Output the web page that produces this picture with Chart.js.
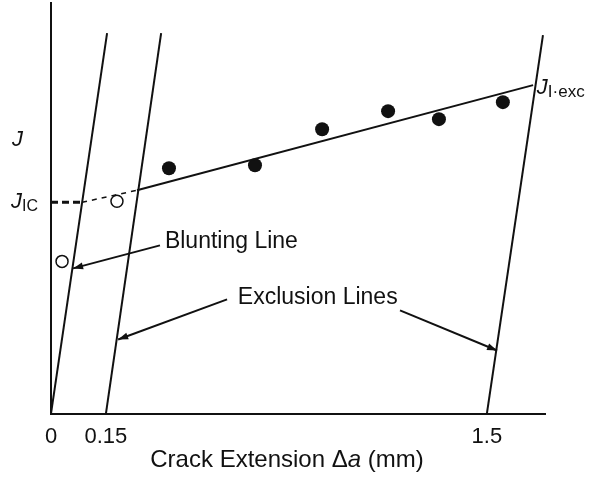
<!DOCTYPE html>
<html>
<head>
<meta charset="utf-8">
<script src="https://cdn.jsdelivr.net/npm/chart.js@4.4.1/dist/chart.umd.min.js"></script>
<style>
  html, body { margin: 0; padding: 0; background: #fff; }
  #wrap { width: 591px; height: 477px; }
</style>
</head>
<body>
<div id="wrap"><canvas id="jr"></canvas></div>
<script>
// schematic J-R curve, x in plot units (tick labels are the real mm values)
const xTickValues = [0, 0.189, 1.5];
const xTickLabels = ['0', '0.15', '1.5'];
const jLevel = 27.3;   // where the "J" axis label sits
const jIC = 21.1;

// measured points
const filledX = [0.406, 0.702, 0.933, 1.160, 1.335, 1.555];
const filledY = [24.5, 24.8, 28.4, 30.2, 29.4, 31.1];
const openX = [0.038, 0.227];
const openY = [15.2, 21.2];

// construction lines
const bluntingLine = [[0, 0], [0.193, 38]];
const exclusionLine1 = [[0.189, 0], [0.379, 38]];
const exclusionLine2 = [[1.5, 0], [1.693, 37.8]];
const regressionLine = [[0.296, 22.3], [1.659, 32.8]];
const regressionExt = [[0.107, jIC], [0.296, 22.3]];
const jicLine = [[0, jIC], [0.107, jIC]];

// label arrows (tail -> head)
const arrowBlunting = [[0.375, 16.8], [0.076, 14.5]];
const arrowExcl1 = [[0.606, 11.4], [0.231, 7.4]];
const arrowExcl2 = [[1.201, 10.3], [1.535, 6.3]];

const toPts = arr => arr.map(p => ({ x: p[0], y: p[1] }));
const ink = '#111';
const FONT = '"Liberation Sans", Arial, sans-serif';

function lineSet(arr, extra) {
  return Object.assign({
    type: 'line',
    data: toPts(arr),
    borderColor: ink,
    borderWidth: 2,
    pointRadius: 0,
    fill: false,
    tension: 0
  }, extra || {});
}

const arrows = [arrowBlunting, arrowExcl1, arrowExcl2];

const labelPlugin = {
  id: 'labels',
  afterDatasetsDraw(chart) {
    const ctx = chart.ctx;
    const xs = chart.scales.x, ys = chart.scales.y;
    const px = v => xs.getPixelForValue(v);
    const py = v => ys.getPixelForValue(v);
    ctx.save();
    ctx.fillStyle = ink;

    // arrow heads
    arrows.forEach(a => {
      const x0 = px(a[0][0]), y0 = py(a[0][1]);
      const x1 = px(a[1][0]), y1 = py(a[1][1]);
      const ang = Math.atan2(y1 - y0, x1 - x0);
      const len = 10, half = 3.5;
      ctx.beginPath();
      ctx.moveTo(x1, y1);
      ctx.lineTo(x1 - len * Math.cos(ang) + half * Math.sin(ang), y1 - len * Math.sin(ang) - half * Math.cos(ang));
      ctx.lineTo(x1 - len * Math.cos(ang) - half * Math.sin(ang), y1 - len * Math.sin(ang) + half * Math.cos(ang));
      ctx.closePath();
      ctx.fill();
    });

    ctx.textBaseline = 'middle';
    ctx.textAlign = 'left';
    const reg = '23px ' + FONT;
    ctx.font = reg;
    ctx.fillText('Blunting Line', px(0.392), py(17.2));
    ctx.fillText('Exclusion Lines', px(0.643), py(11.6));

    // J on the axis
    const it = 'italic 22px ' + FONT;
    const sub = '16px ' + FONT;
    ctx.font = it;
    ctx.fillText('J', chart.chartArea.left - 39, py(jLevel));

    // J_IC
    let x = chart.chartArea.left - 40;
    ctx.font = it;
    ctx.fillText('J', x, py(jIC));
    x += ctx.measureText('J').width;
    ctx.font = sub;
    ctx.fillText('IC', x, py(jIC) + 4);

    // J_I-exc
    x = px(1.672);
    ctx.font = it;
    ctx.fillText('J', x, py(32.5));
    x += ctx.measureText('J').width;
    ctx.font = '17px ' + FONT;
    ctx.fillText('I\u00b7exc', x, py(32.5) + 4);

    // x axis title with italic a
    const ty = 460;
    const parts = [['Crack Extension \u0394', '24px ' + FONT], ['a', 'italic 24px ' + FONT], [' (mm)', '24px ' + FONT]];
    let w = 0;
    parts.forEach(p => { ctx.font = p[1]; w += ctx.measureText(p[0]).width; });
    x = 287 - w / 2;
    parts.forEach(p => { ctx.font = p[1]; ctx.fillText(p[0], x, ty); x += ctx.measureText(p[0]).width; });
    ctx.restore();
  }
};

new Chart(document.getElementById('jr'), {
  type: 'scatter',
  data: {
    datasets: [
      lineSet(bluntingLine),
      lineSet(exclusionLine1),
      lineSet(exclusionLine2),
      lineSet(regressionLine),
      lineSet(regressionExt, { borderDash: [5, 5], borderWidth: 1.5 }),
      lineSet(jicLine, { borderDash: [7, 4], borderWidth: 3 }),
      lineSet(arrowBlunting),
      lineSet(arrowExcl1),
      lineSet(arrowExcl2),
      {
        type: 'scatter',
        data: filledX.map((v, i) => ({ x: v, y: filledY[i] })),
        pointRadius: 7,
        pointBackgroundColor: ink,
        pointBorderColor: ink,
        pointBorderWidth: 0
      },
      {
        type: 'scatter',
        data: openX.map((v, i) => ({ x: v, y: openY[i] })),
        pointRadius: 6,
        pointBackgroundColor: '#fff',
        pointBorderColor: ink,
        pointBorderWidth: 1.5
      }
    ]
  },
  options: {
    responsive: true,
    maintainAspectRatio: false,
    animation: false,
    layout: { autoPadding: false, padding: { left: 51, top: 3, right: 46, bottom: 17 } },
    plugins: { legend: { display: false }, tooltip: { enabled: false } },
    scales: {
      x: {
        type: 'linear',
        min: 0,
        max: 1.7,
        grid: { display: false, drawTicks: false },
        border: { display: true, color: ink, width: 2 },
        afterBuildTicks: s => { s.ticks = xTickValues.map(v => ({ value: v })); },
        ticks: {
          color: ink,
          padding: 10,
          font: { family: FONT, size: 22 },
          maxRotation: 0,
          autoSkip: false,
          callback: (v, i) => xTickLabels[i]
        }
      },
      y: {
        type: 'linear',
        min: 0,
        max: 41,
        grid: { display: false, drawTicks: false },
        border: { display: true, color: ink, width: 2 },
        ticks: { display: false }
      }
    }
  },
  plugins: [labelPlugin]
});
</script>
</body>
</html>
